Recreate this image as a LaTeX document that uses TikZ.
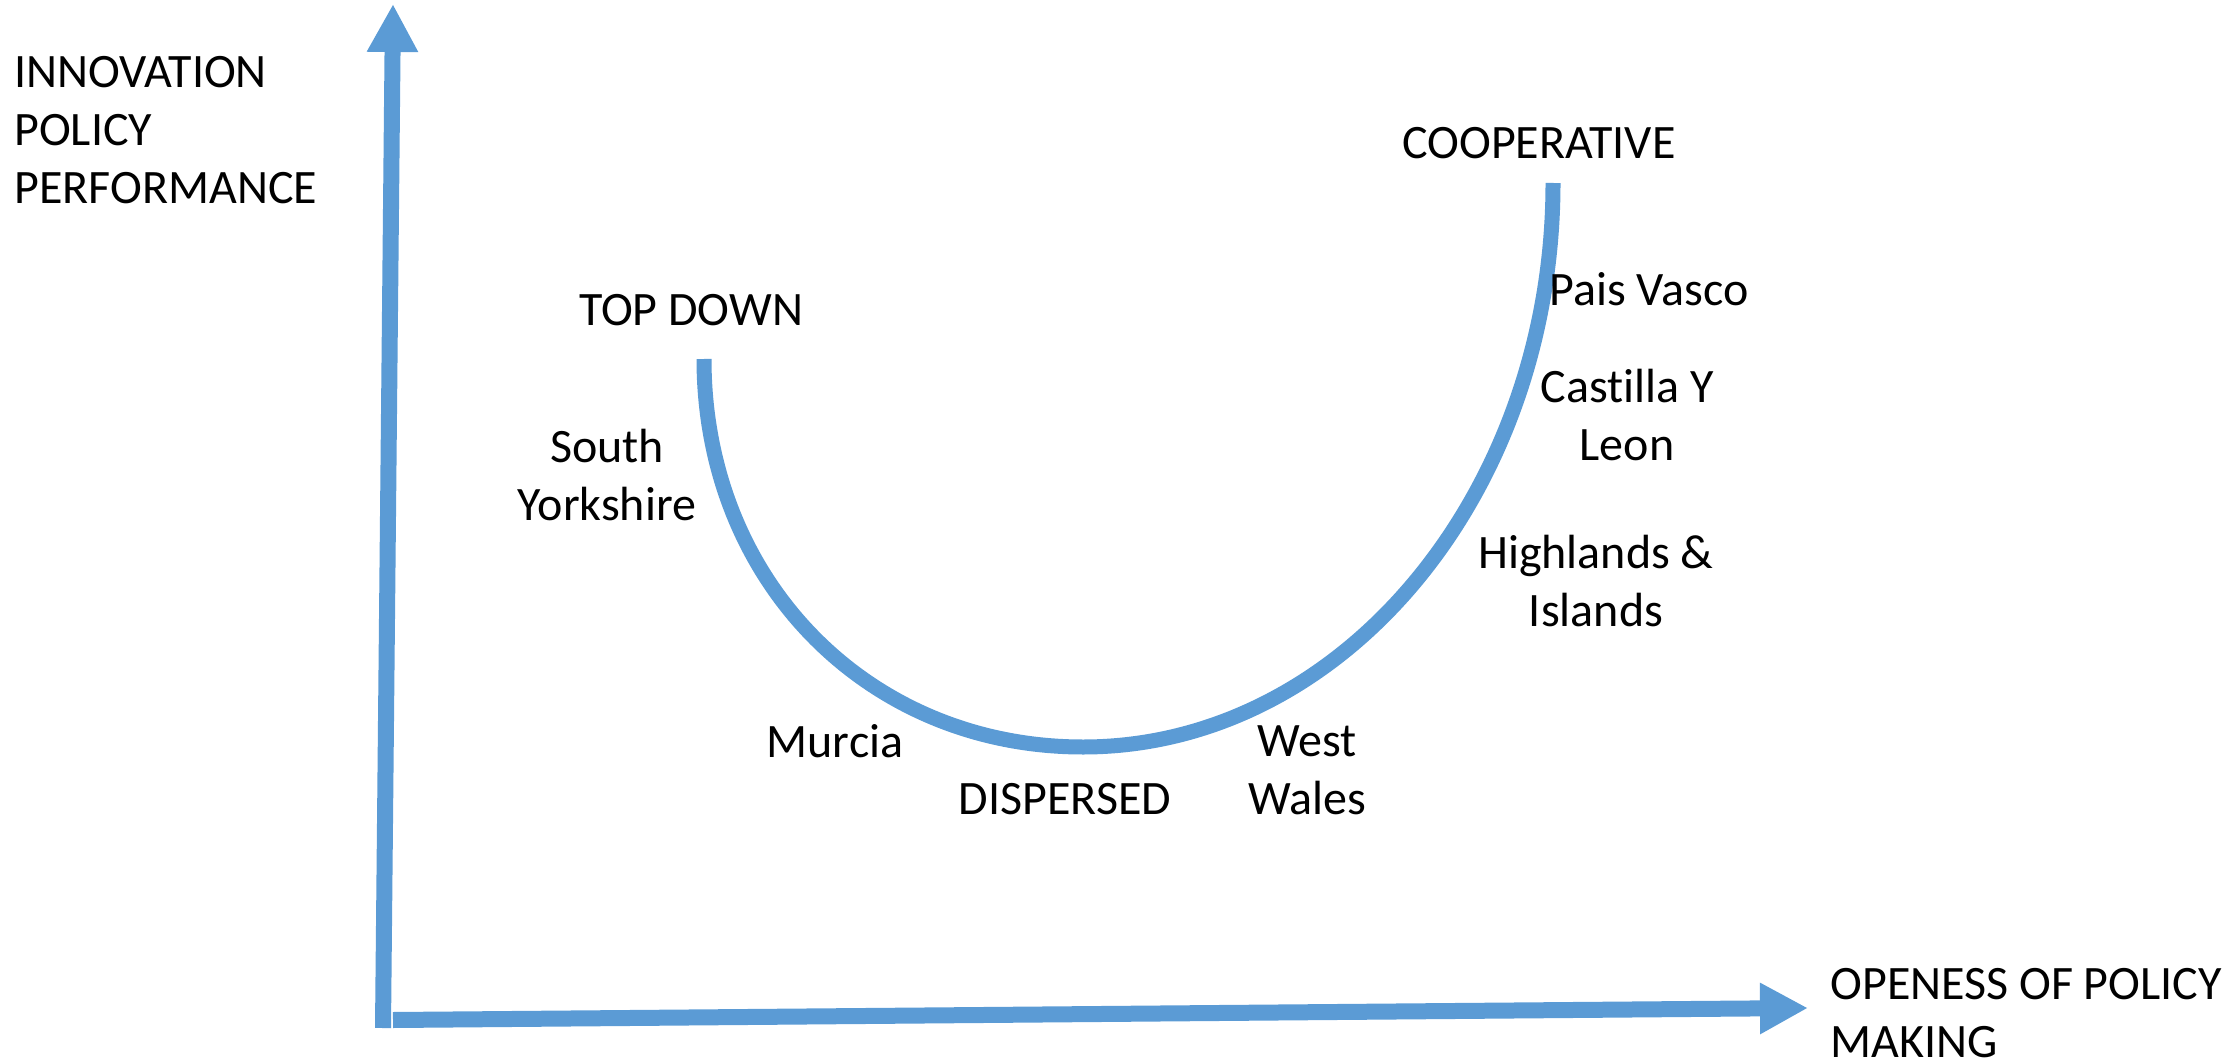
\documentclass[tikz,border=0pt]{standalone}
\usepackage{fontspec}
\setmainfont{Carlito}[Ligatures=NoCommon]
\usetikzlibrary{arrows.meta}
\definecolor{axisblue}{HTML}{5B9BD5}
\begin{document}
\begin{tikzpicture}[x=0.5pt,y=-0.5pt,
  axisline/.style={draw=axisblue,line width=8pt,
    -{Triangle[length=24pt,width=24pt,color=axisblue]}},
  curveline/.style={draw=axisblue,line width=7.5pt},
  lbl/.style={font=\fontsize{24}{29}\selectfont,inner sep=0pt,anchor=base,align=center},
  lbll/.style={lbl,align=left,anchor=base west}]
\useasboundingbox (0,0) rectangle (2238,1059);

% axes
\coordinate (ybot) at (383,1028);
\coordinate (ytop) at (393,4);
\coordinate (xleft) at (393,1020);
\coordinate (xright) at (1808,1008);
\draw[axisline] (ybot) -- (ytop);
\draw[axisline] (xleft) -- (xright);

% U-shaped curve
\coordinate (tdend) at (704,359);
\coordinate (bottom) at (1083,747);
\coordinate (coend) at (1553,183);
\draw[curveline] (tdend) .. controls (704,580) and (867,747) .. (bottom)
  .. controls (1342,747) and (1553,494) .. (coend);

% axis titles (anchored at the baseline of the last line)
\node[lbll] (ytitle) at (14,204) {INNOVATION\\POLICY\\PERFORMANCE};
\node[lbll] (xtitle) at (1830,1057) {OPENESS OF POLICY\\MAKING};

% regimes and regions
\node[lbl] (topdown) at (691,325) {TOP DOWN};
\node[lbl] (syork) at (607,520) {South\\Yorkshire};
\node[lbl] (murcia) at (835,757) {Murcia};
\node[lbl] (dispersed) at (1065,814) {DISPERSED};
\node[lbl] (wwales) at (1307,814) {West\\Wales};
\node[lbl] (coop) at (1539,159) {COOPERATIVE};
\node[lbl] (pais) at (1649,306) {Pais Vasco};
\node[lbl] (castilla) at (1627,460) {Castilla Y\\Leon};
\node[lbl] (highlands) at (1596,626) {Highlands \&\\Islands};
\end{tikzpicture}
\end{document}
